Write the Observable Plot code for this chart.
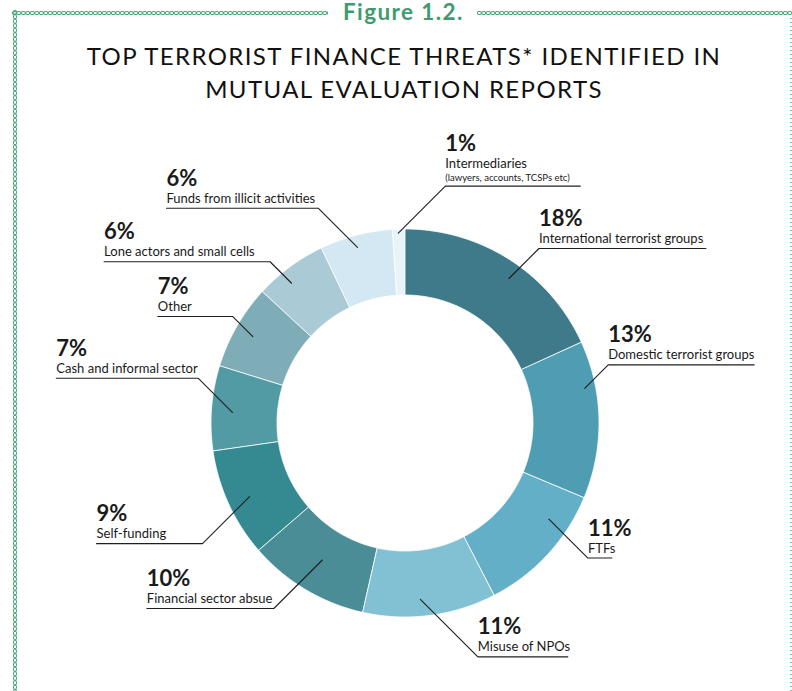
<!DOCTYPE html>
<html><head><meta charset="utf-8">
<script src="https://cdn.jsdelivr.net/npm/d3@7"></script>
<script src="https://cdn.jsdelivr.net/npm/@observablehq/plot@0.6"></script>
<style>
body{margin:0;background:#fff;}
#fig{position:relative;width:792px;height:691px;overflow:hidden;font-family:Lato,sans-serif;background:#fff;}
.chainH{position:absolute;height:6px;background-image:radial-gradient(circle, rgba(255,255,255,0) 1.0px, #4da67d 1.3px, #4da67d 2.1px, rgba(255,255,255,0) 2.5px);background-size:4.5px 6px;background-repeat:repeat-x;}
.chainV{position:absolute;width:6px;background-image:radial-gradient(circle, rgba(255,255,255,0) 1.0px, #4da67d 1.3px, #4da67d 2.1px, rgba(255,255,255,0) 2.5px);background-size:6px 4.5px;background-repeat:repeat-y;}
#rightLine{position:absolute;left:790px;top:18px;width:1.5px;height:673px;background-image:repeating-linear-gradient(to bottom, #86b9a2 0px, #86b9a2 1.5px, rgba(255,255,255,0) 1.5px, rgba(255,255,255,0) 4px);}
#figlabel{position:absolute;left:343px;top:1px;line-height:22px;font-weight:bold;font-size:22.5px;letter-spacing:1.4px;color:#3f9b6f;white-space:nowrap;}
#title{position:absolute;top:39px;left:0;width:808px;text-align:center;font-size:24px;letter-spacing:1.4px;line-height:33px;color:#111;}
#chart{position:absolute;top:110px;left:0;}
</style></head>
<body>
<div id="fig">
  <div id="chart"></div>
  <div class="chainH" style="left:12px;top:10px;width:316px;"></div>
  <div class="chainH" style="left:477px;top:10px;width:315px;"></div>
  <div class="chainV" style="left:12px;top:10px;height:681px;"></div>
  <div id="rightLine"></div>
  <div id="figlabel">Figure 1.2.</div>
  <div id="title">TOP TERRORIST FINANCE THREATS* IDENTIFIED IN<br>MUTUAL EVALUATION REPORTS</div>
</div>
<script>
// ---- data ----
const categories = [
  "International terrorist groups",
  "Domestic terrorist groups",
  "FTFs",
  "Misuse of NPOs",
  "Financial sector absue",
  "Self-funding",
  "Cash and informal sector",
  "Other",
  "Lone actors and small cells",
  "Funds from illicit activities",
  "Intermediaries"
];
const notes = ["", "", "", "", "", "", "", "", "", "", "(lawyers, accounts, TCSPs etc)"];
const values = [18, 13, 11, 11, 10, 9, 7, 7, 6, 6, 1];

// ---- styles / layout ----
const colors = ["#3e7a8a", "#4f9db2", "#64afc8", "#82c1d3", "#4a8d97", "#358a91",
                "#529ba5", "#7eadb7", "#aacbd5", "#d3e8f2", "#e8f4fa"];
// side: direction of the label, da: angular nudge (deg), r: leader start radius (px),
// L: diagonal leader length (px), U: underline length (px)
const labelLayout = [
  {side: 1, da: 3, r: 178, L: 30, U: 167},
  {side: 1, da: -10, r: 183, L: 23.5, U: 146},
  {side: 1, da: -9, r: 173, L: 39, U: 24},
  {side: 1, da: 2.3, r: 177, L: 57.5, U: 90},
  {side: -1, da: 0.2, r: 160, L: 48.5, U: 127},
  {side: -1, da: -0.8, r: 172, L: 47, U: 106},
  {side: -1, da: -1, r: 173, L: 34, U: 142},
  {side: -1, da: -0.4, r: 175, L: 20, U: 75},
  {side: -1, da: -2.7, r: 180, L: 21.5, U: 166},
  {side: -1, da: -0.6, r: 182, L: 39, U: 152},
  {side: 1, da: -0.2, r: 190, L: 47, U: 135}
];
const W = 792, H = 581;
const CX = 404.5, CY = 312.5, R_OUT = 194, R_IN = 128;

// ---- geometry derived from data ----
const total = d3.sum(values);
let acc = 0;
const slices = values.map((v, i) => {
  const a0 = acc / total * 360; acc += v; const a1 = acc / total * 360;
  return {i, name: categories[i], value: v, a0, a1, mid: (a0 + a1) / 2};
});
const rad = Math.PI / 180;
const pt = (deg, r) => [CX + r * Math.sin(deg * rad), CY - r * Math.cos(deg * rad)];

const ring = slices.flatMap(s => {
  const n = Math.max(2, Math.ceil((s.a1 - s.a0) / 0.5));
  const out = [];
  for (let k = 0; k <= n; k++) { const [x, y] = pt(s.a0 + (s.a1 - s.a0) * k / n, R_OUT); out.push({name: s.name, x, y}); }
  for (let k = n; k >= 0; k--) { const [x, y] = pt(s.a0 + (s.a1 - s.a0) * k / n, R_IN); out.push({name: s.name, x, y}); }
  return out;
});

const labels = slices.map((s, i) => {
  const l = labelLayout[i];
  const a = s.mid + l.da;
  const [x0, y0] = pt(a, l.r);
  const vdir = Math.cos(a * rad) > 0 ? -1 : 1;
  const ex = x0 + l.side * l.L, ey = y0 + vdir * l.L;
  const ux = ex + l.side * l.U;
  return {name: s.name, value: s.value, note: notes[i], x0, y0, ex, ey, ux, tx: Math.min(ex, ux)};
});
const leaders = labels.flatMap(d => [
  {name: d.name, x: d.x0, y: d.y0},
  {name: d.name, x: d.ex, y: d.ey},
  {name: d.name, x: d.ux, y: d.ey}
]);

const plain = labels.filter(d => !d.note);
const noted = labels.filter(d => d.note);
const txt = {x: "tx", y: "ey", textAnchor: "start", lineAnchor: "bottom", fill: "#1a1a1a", fontFamily: "Lato"};

const chart = Plot.plot({
  width: W, height: H,
  margin: 0,
  x: {domain: [0, W], range: [0, W], axis: null},
  y: {domain: [0, H], range: [0, H], axis: null},
  color: {domain: categories, range: colors},
  style: {fontFamily: "Lato", background: "transparent", overflow: "visible"},
  marks: [
    Plot.line(ring, {x: "x", y: "y", z: "name", fill: "name", stroke: "#ffffff", strokeWidth: 0.8, curve: "linear-closed"}),
    Plot.line(leaders, {x: "x", y: "y", z: "name", stroke: "#1e1e1e", strokeWidth: 1.1}),
    Plot.text(plain, {...txt, text: d => d.value + "%", dy: -22.5, fontSize: 22, fontWeight: "bold"}),
    Plot.text(plain, {...txt, text: "name", dy: -5.5, fontSize: 13}),
    Plot.text(noted, {...txt, text: d => d.value + "%", dy: -35.5, fontSize: 22, fontWeight: "bold"}),
    Plot.text(noted, {...txt, text: "name", dy: -18.5, fontSize: 13}),
    Plot.text(noted, {...txt, text: "note", dy: -5.5, fontSize: 9.5})
  ]
});
document.getElementById("chart").appendChild(chart);
</script>
</body></html>
